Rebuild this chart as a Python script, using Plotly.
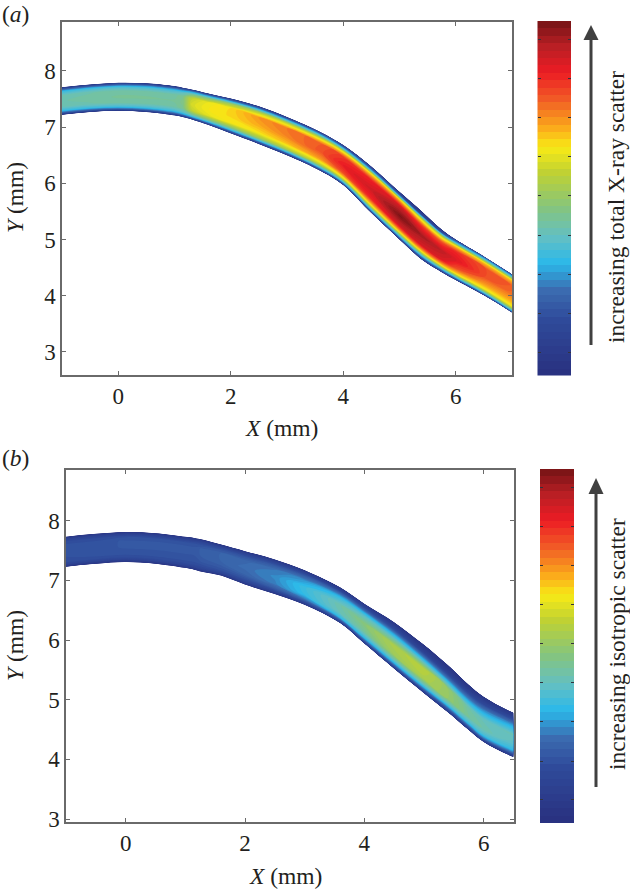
import plotly.graph_objects as go

W, H = 630, 889

# ---------- data ----------
FRACTIONS = [0, 0.08, 0.16, 0.3, 0.5, 0.7, 0.84, 0.92, 1]

A_X = [-1, -0.5, 0, 0.5, 1, 1.15, 1.3, 1.6, 2, 2.5, 3, 3.6, 4, 4.5, 5, 5.4, 5.75, 6, 6.5, 7]
A_TOP = [7.71, 7.76, 7.79, 7.78, 7.73, 7.70, 7.67, 7.60, 7.51, 7.37, 7.18, 6.91, 6.68, 6.30, 5.85, 5.50, 5.18, 5.00, 4.70, 4.38]
A_BOT = [7.22, 7.27, 7.29, 7.27, 7.21, 7.18, 7.14, 7.04, 6.89, 6.70, 6.50, 6.22, 5.97, 5.47, 5.00, 4.64, 4.42, 4.28, 4.01, 3.70]
A_Z = [
    [.05, .22, .34, .41, .42, .41, .34, .22, .05],
    [.05, .23, .35, .42, .43, .42, .35, .23, .05],
    [.05, .24, .36, .43, .44, .43, .36, .24, .05],
    [.05, .24, .36, .43, .44, .43, .36, .24, .05],
    [.05, .24, .36, .43, .44, .43, .36, .24, .05],
    [.05, .26, .38, .45, .46, .45, .38, .26, .05],
    [.06, .29, .43, .57, .60, .57, .43, .29, .06],
    [.06, .29, .46, .62, .64, .63, .47, .29, .06],
    [.06, .29, .47, .64, .66, .66, .52, .29, .06],
    [.06, .31, .52, .65, .70, .72, .55, .31, .06],
    [.06, .32, .55, .68, .74, .75, .57, .32, .06],
    [.08, .35, .57, .72, .79, .78, .59, .34, .08],
    [.08, .37, .60, .80, .86, .82, .61, .32, .08],
    [.07, .37, .63, .84, .90, .85, .64, .29, .06],
    [.07, .37, .65, .90, .99, .90, .66, .25, .03],
    [.07, .34, .63, .89, .95, .82, .57, .15, .02],
    [.08, .36, .65, .88, .92, .80, .57, .20, .05],
    [.08, .39, .65, .80, .88, .84, .65, .34, .10],
    [.10, .41, .63, .72, .80, .80, .67, .41, .15],
    [.12, .44, .63, .70, .76, .78, .67, .41, .15],
]

B_X = [-1, -0.5, 0, 0.5, 1, 1.15, 1.3, 1.6, 2, 2.5, 3, 3.6, 4, 4.5, 5, 5.4, 5.75, 6, 6.5]
B_TOP = [7.73, 7.78, 7.81, 7.79, 7.73, 7.71, 7.68, 7.60, 7.49, 7.35, 7.17, 6.88, 6.61, 6.30, 5.92, 5.58, 5.25, 5.05, 4.78]
B_BOT = [7.23, 7.28, 7.31, 7.28, 7.21, 7.18, 7.14, 7.08, 6.93, 6.77, 6.59, 6.28, 5.94, 5.52, 5.11, 4.79, 4.49, 4.29, 4.04]
B_Z = [
    [.04, .12, .16, .17, .18, .18, .16, .12, .05],
    [.04, .12, .16, .18, .18, .18, .16, .12, .05],
    [.04, .12, .16, .18, .19, .19, .17, .12, .05],
    [.04, .12, .16, .18, .19, .19, .17, .12, .05],
    [.04, .12, .16, .18, .19, .19, .17, .12, .05],
    [.04, .12, .16, .18, .19, .19, .17, .12, .05],
    [.04, .13, .16, .19, .21, .21, .17, .13, .05],
    [.04, .13, .17, .20, .22, .22, .18, .13, .05],
    [.04, .13, .17, .22, .24, .23, .18, .13, .05],
    [.04, .14, .20, .26, .27, .25, .19, .13, .05],
    [.05, .16, .25, .33, .34, .28, .20, .13, .05],
    [.05, .20, .33, .41, .42, .34, .22, .12, .05],
    [.05, .22, .34, .44, .48, .38, .22, .13, .05],
    [.05, .24, .37, .52, .54, .34, .17, .10, .04],
    [.05, .24, .38, .54, .56, .30, .12, .07, .03],
    [.05, .22, .36, .50, .50, .26, .10, .06, .03],
    [.05, .22, .35, .44, .42, .25, .12, .07, .03],
    [.05, .24, .36, .42, .40, .27, .14, .09, .04],
    [.06, .22, .33, .38, .41, .30, .17, .10, .05],
]

COLORSCALE = [
    [0.00, "#29307f"], [0.156, "#2f4a9a"], [0.24, "#3b6bb0"], [0.317, "#2bb9ea"],
    [0.39, "#62bfc4"], [0.476, "#86c57c"], [0.572, "#bfd133"], [0.643, "#f7ea16"],
    [0.694, "#fbb01a"], [0.78, "#f15a26"], [0.855, "#ec1c24"], [0.93, "#b81f24"],
    [1.00, "#741315"],
]
X_TICKS = [0, 2, 4, 6]
Y_TICKS = [3, 4, 5, 6, 7, 8]
BAR_TICKS = [.065, .175, .286, .396, .507, .617, .728, .838, .949]
BAR_LEVELS = [(i + 0.5) / 48 for i in range(48)]
LABEL_A = "increasing total X-ray scatter"
LABEL_B = "increasing isotropic scatter"

FONT = "Liberation Serif"
INK = "#231f20"
FRAME = "#6a6a6a"
ARROW = "#404040"


def dx(px):
    return px / W


def dy(py):
    return 1 - py / H


fig = go.Figure()


def add_band(n, sx, top, bot, z):
    cid = f"c{n}"
    suffix = "" if n == 1 else str(n)
    xs = [[s for s in sx] for _ in FRACTIONS]
    ys = [[b + f * (t - b) for t, b in zip(top, bot)] for f in FRACTIONS]
    zs = [[row[j] for row in z] for j in range(len(FRACTIONS))]
    hidden = dict(showgrid=False, minorgridcount=0, showticklabels="none", showline=False,
                  startline=False, endline=False, smoothing=1)
    fig.add_trace(go.Carpet(a=sx, b=FRACTIONS, x=xs, y=ys, carpet=cid,
                            aaxis=hidden, baxis=hidden,
                            xaxis="x" + suffix, yaxis="y" + suffix))
    fig.add_trace(go.Contourcarpet(a=sx, b=FRACTIONS, z=zs, carpet=cid, zmin=0, zmax=1,
                                   autocontour=False, colorscale=COLORSCALE, showscale=False,
                                   contours=dict(start=0, end=1, size=1 / 64, coloring="fill"),
                                   line=dict(width=0), xaxis="x" + suffix, yaxis="y" + suffix))


def add_bar(n):
    fig.add_trace(go.Heatmap(x=[0, 1], y=BAR_LEVELS, z=[[v, v] for v in BAR_LEVELS],
                             zmin=0, zmax=1, colorscale=COLORSCALE, showscale=False,
                             xaxis=f"x{n}", yaxis=f"y{n}"))


add_band(1, A_X, A_TOP, A_BOT, A_Z)
add_band(2, B_X, B_TOP, B_BOT, B_Z)
add_bar(3)
add_bar(4)


def main_axis(px0, px1, rng, ticks):
    return dict(domain=[dx(px0), dx(px1)], range=rng, tickvals=ticks, ticks="inside", ticklen=4,
                tickcolor=FRAME, tickwidth=1, showline=True, linecolor=FRAME, linewidth=1.5,
                mirror="ticks", showgrid=False, zeroline=False, automargin=False,
                tickfont=dict(family=FONT, size=23, color=INK))


def y_axis(py0, py1, rng, ticks):
    d = main_axis(0, 1, rng, ticks)
    d["domain"] = [dy(py1), dy(py0)]
    return d


fig.update_layout(
    width=W, height=H, margin=dict(l=0, r=0, t=0, b=0), showlegend=False,
    paper_bgcolor="white", plot_bgcolor="white",
    xaxis=dict(main_axis(62, 512, [-1, 7], X_TICKS), anchor="y"),
    yaxis=dict(y_axis(22, 375, [2.59, 8.87], Y_TICKS), anchor="x"),
    xaxis2=dict(main_axis(66, 513.5, [-1, 6.5], X_TICKS), anchor="y2"),
    yaxis2=dict(y_axis(470, 822, [2.95, 8.85], Y_TICKS), anchor="x2"),
)

for n, (x0, x1, y0, y1) in {3: (537.5, 571, 21, 375.5), 4: (540, 574, 469, 823)}.items():
    fig.layout[f"xaxis{n}"] = dict(domain=[dx(x0), dx(x1)], range=[0, 1], visible=False, anchor=f"y{n}")
    fig.layout[f"yaxis{n}"] = dict(domain=[dy(y1), dy(y0)], range=[0, 1], tickvals=BAR_TICKS,
                                   ticks="inside", ticklen=3, tickcolor="#33333c", tickwidth=1,
                                   showticklabels=False, mirror="ticks", showline=False,
                                   showgrid=False, zeroline=False, anchor=f"x{n}")

# arrows beside the colour bars
for cx, y_top, y_base, y_end in [(591, 25, 40, 345), (596, 478, 494, 787)]:
    fig.add_shape(type="line", xref="paper", yref="paper", x0=dx(cx), x1=dx(cx), y0=dy(y_end), y1=dy(y_base),
                  line=dict(color=ARROW, width=3))
    fig.add_shape(type="path", xref="paper", yref="paper", fillcolor=ARROW, line=dict(width=0),
                  path=f"M {dx(cx - 7.5)} {dy(y_base)} L {dx(cx)} {dy(y_top)} L {dx(cx + 7.5)} {dy(y_base)} Z")


def note(text, px, py, angle=0, xanchor="left", size=23.5):
    fig.add_annotation(text=text, xref="paper", yref="paper", x=dx(px), y=dy(py), showarrow=False,
                       textangle=angle, xanchor=xanchor, yanchor="middle",
                       font=dict(family=FONT, size=size, color=INK))


note("(<i>a</i>)", 0, 14)
note("(<i>b</i>)", 0, 458)
note("<i>X</i> (mm)", 281, 428, xanchor="center")
note("<i>X</i> (mm)", 285, 876, xanchor="center")
note("<i>Y</i> (mm)", 15, 198, angle=-90, xanchor="center")
note("<i>Y</i> (mm)", 15, 646, angle=-90, xanchor="center")
note(LABEL_A, 616, 207, angle=-90, xanchor="center")
note(LABEL_B, 617, 644, angle=-90, xanchor="center")

fig.write_html("out.html", config={"displayModeBar": False},
               post_script="document.body.style.margin='0';")
